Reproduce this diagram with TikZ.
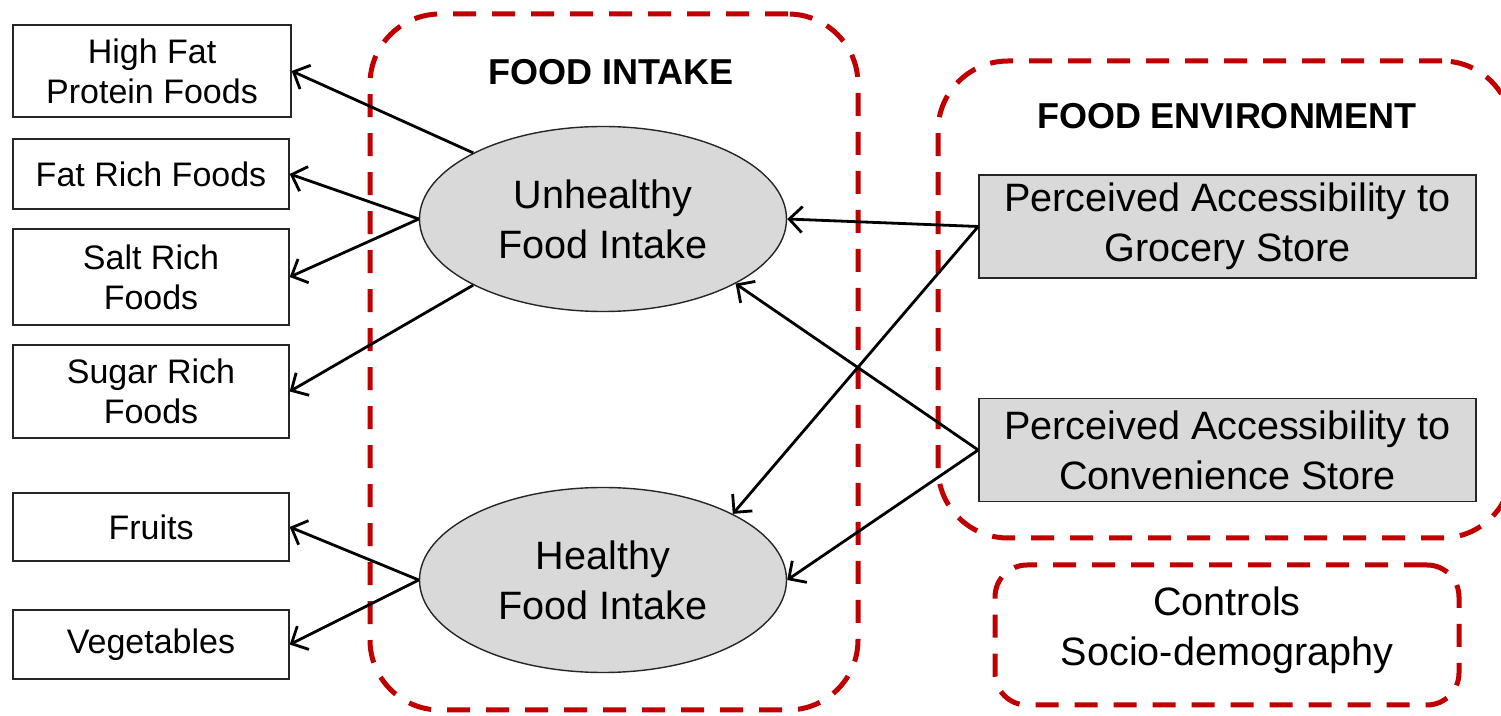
\documentclass[tikz,border=0pt]{standalone}
\usepackage{fontspec}
\setmainfont{Liberation Sans}
\usetikzlibrary{arrows.meta,shapes.geometric}
\definecolor{dred}{HTML}{C00000}
\definecolor{lgray}{HTML}{D9D9D9}
\begin{document}
\begin{tikzpicture}[x=0.5pt,y=-0.5pt,
  leftbox/.style={draw=black!85,line width=0.7pt,fill=white,inner sep=0pt,align=center,font=\fontsize{17}{20}\selectfont},
  latent/.style={ellipse,draw=black!85,line width=0.7pt,fill=lgray,minimum width=183.5pt,minimum height=92.5pt,inner sep=0pt,align=center,font=\fontsize{19.8}{25}\selectfont},
  envbox/.style={draw=black!85,line width=0.8pt,fill=lgray,minimum width=248.5pt,minimum height=51.5pt,inner sep=0pt,align=center,font=\fontsize{19.8}{25}\selectfont},
  group/.style={draw=dred,line width=2.5pt,dash pattern=on 11.5pt off 8pt,inner sep=0pt},
  grouptitle/.style={font=\bfseries\fontsize{18}{22}\selectfont},
  link/.style={line width=1.4pt,-{Straight Barb[length=6.5pt,width=13pt,line width=1.4pt]}}]
\useasboundingbox (0,0) rectangle (1501,716);

% group containers
\node[group,rounded corners=35pt,minimum width=244pt,minimum height=348pt] (fi) at (614,362) {};
\node[group,rounded corners=35pt,minimum width=287pt,minimum height=238.5pt] (fe) at (1225,299.5) {};
\node[group,rounded corners=16pt,minimum width=232pt,minimum height=70pt] (ctrl) at (1227,635) {};

\node[grouptitle] (fit) at (611,72) {FOOD INTAKE};
\node[grouptitle] (fet) at (1227,116) {FOOD ENVIRONMENT};
\node[align=center,font=\fontsize{19.8}{25}\selectfont] (ctrlt) at (1227,630) {Controls\\Socio-demography};

% indicators
\node[leftbox,minimum width=139pt,minimum height=46pt] (hf) at (152,71) {High Fat\\Protein Foods};
\node[leftbox,minimum width=138pt,minimum height=35pt] (fr) at (151,174) {Fat Rich Foods};
\node[leftbox,minimum width=138pt,minimum height=48pt] (sr) at (151,277) {Salt Rich\\Foods};
\node[leftbox,minimum width=138pt,minimum height=46.5pt] (sg) at (151,391.5) {Sugar Rich\\Foods};
\node[leftbox,minimum width=138pt,minimum height=34pt] (fru) at (151,527) {Fruits};
\node[leftbox,minimum width=138pt,minimum height=34.5pt] (veg) at (151,644.5) {Vegetables};

% latent variables
\node[latent] (u) at (603,219) {Unhealthy\\Food Intake};
\node[latent] (h) at (603,580) {Healthy\\Food Intake};

% environment
\node[envbox] (gro) at (1227.5,226.5) {Perceived Accessibility to\\Grocery Store};
\node[envbox] (con) at (1227.5,450) {Perceived Accessibility to\\Convenience Store};

% connectors
\draw[link] (u.153) -- (hf.east);
\draw[link] (u.west) -- (fr.east);
\draw[link] (u.west) -- (sr.east);
\draw[link] (u.207) -- (sg.east);
\draw[link] (h.west) -- (fru.east);
\draw[link] (h.west) -- (veg.east);
\draw[link] (gro.west) -- (u.east);
\draw[link] (gro.west) -- (h.27);
\draw[link] (con.west) -- (u.334);
\draw[link] (con.west) -- (h.east);
\end{tikzpicture}
\end{document}
